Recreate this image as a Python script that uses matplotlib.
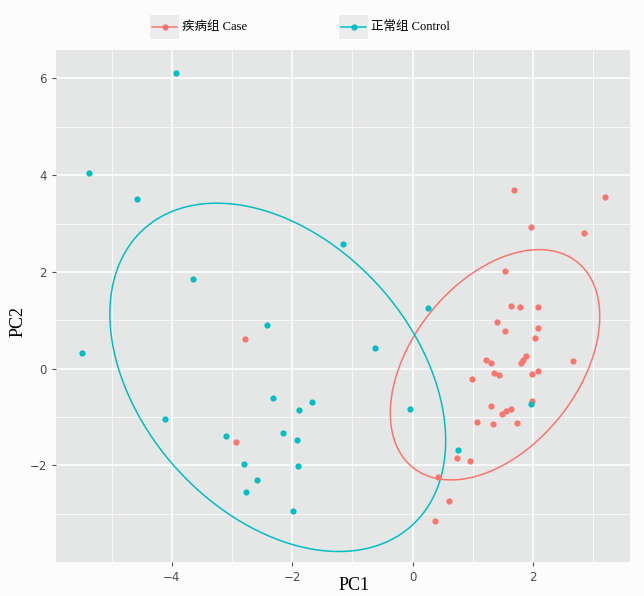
import numpy as np
import matplotlib
matplotlib.use("Agg")
import matplotlib.pyplot as plt
from matplotlib.lines import Line2D

plt.rcParams['font.family'] = ['DejaVu Sans']

groups = ['疾病组 Case', '正常组 Control']
colors = ['#F8766D', '#00BFC4']

case_pc1 = [1.69, 3.19, 1.96, 2.85, 1.53, 1.64, 1.79, 2.09, 1.40, 1.53, 2.09, 2.04,
            1.22, 1.31, 1.88, 1.84, 1.80, 2.67, 1.36, 1.44, 1.99, 2.09, 0.98, 1.30,
            1.99, 1.63, 1.55, 1.49, 1.07, 1.33, 1.74, 0.74, 0.95, 0.42, 0.61, 0.37,
            -2.78, -2.94]
case_pc2 = [3.70, 3.55, 2.93, 2.81, 2.02, 1.30, 1.27, 1.27, 0.96, 0.77, 0.83, 0.63,
            0.18, 0.12, 0.26, 0.18, 0.11, 0.15, -0.10, -0.13, -0.12, -0.05, -0.21, -0.77,
            -0.67, -0.83, -0.87, -0.93, -1.10, -1.14, -1.12, -1.84, -1.91, -2.23, -2.73, -3.14,
            0.62, -1.52]

control_pc1 = [-3.93, -5.37, -4.58, -3.65, -1.16, -5.49, -2.42, -0.63, 0.25, -4.11,
               -2.32, -3.10, -2.15, -1.89, -1.67, -1.92, -2.80, -1.90, -2.59, -2.77,
               -1.98, -0.05, 0.75, 1.96]
control_pc2 = [6.11, 4.05, 3.50, 1.86, 2.58, 0.32, 0.90, 0.42, 1.26, -1.05,
               -0.61, -1.40, -1.33, -0.85, -0.69, -1.47, -1.98, -2.02, -2.31, -2.54,
               -2.95, -0.83, -1.68, -0.73]

# ellipse: centre, x half-extent, y half-extent, cross term
ell_center = [(1.37, 0.08), (-2.24, -0.18)]
ell_sx = [1.74, 2.79]
ell_sy = [2.38, 3.60]
ell_sxy = [1.74, -3.65]

fig = plt.figure(figsize=(6.44, 5.96), dpi=100)
fig.patch.set_facecolor('#fcfcfc')
ax = fig.add_axes([0.0865, 0.0576, 0.8915, 0.8584])
ax.set_facecolor('#e5e6e6')

xs = [case_pc1, control_pc1]
ys = [case_pc2, control_pc2]
t = np.linspace(0, 2 * np.pi, 400)
for i in range(2):
    ax.scatter(xs[i], ys[i], s=20, color=colors[i], zorder=3, linewidths=0)
    M = np.array([[ell_sx[i] ** 2, ell_sxy[i]], [ell_sxy[i], ell_sy[i] ** 2]])
    L = np.linalg.cholesky(M)
    pts = L @ np.vstack([np.cos(t), np.sin(t)])
    ax.plot(pts[0] + ell_center[i][0], pts[1] + ell_center[i][1],
            color=colors[i], lw=1.1, zorder=2, solid_capstyle='butt')

ax.set_xlim(-5.93, 3.61)
ax.set_ylim(-3.99, 6.585)
ax.set_xticks([-4, -2, 0, 2])
ax.set_yticks([-2, 0, 2, 4, 6])
ax.set_xticks([-5, -3, -1, 1, 3], minor=True)
ax.set_yticks([-3, -1, 1, 3, 5], minor=True)
ax.grid(True, which='major', color='white', lw=1.1)
ax.grid(True, which='minor', color='white', lw=0.5)
ax.set_axisbelow(True)
for s in ax.spines.values():
    s.set_visible(False)
ax.tick_params(which='major', length=3, color='#555555', labelsize=8.5, labelcolor='#4d4d4d')
ax.tick_params(which='minor', length=0)

ax.set_xlabel('PC1', family='Liberation Serif', fontsize=13, va='center')
ax.set_ylabel('PC2', family='Liberation Serif', fontsize=13, va='center')
ax.xaxis.set_label_coords(0.52, -0.047)
ax.yaxis.set_label_coords(-0.066, 0.47)

# legend at the top
key_x = [0.236, 0.530]
for i in range(2):
    kx = key_x[i]
    fig.patches.append(plt.Rectangle((kx - 0.003, 0.935), 0.045, 0.04, transform=fig.transFigure,
                                     facecolor='#ececec', edgecolor='none'))
    fig.lines.append(Line2D([kx, kx + 0.039], [0.955, 0.955], transform=fig.transFigure,
                            color=colors[i], lw=1.1))
    fig.lines.append(Line2D([kx + 0.0195], [0.955], transform=fig.transFigure,
                            color=colors[i], marker='o', markersize=4.5, markeredgewidth=0))
    fig.text(kx + 0.046, 0.955, groups[i], va='center', ha='left', fontsize=9,
             family=['Liberation Serif', 'Noto Sans CJK SC'])

fig.savefig('out.png', dpi=100, facecolor=fig.get_facecolor())
